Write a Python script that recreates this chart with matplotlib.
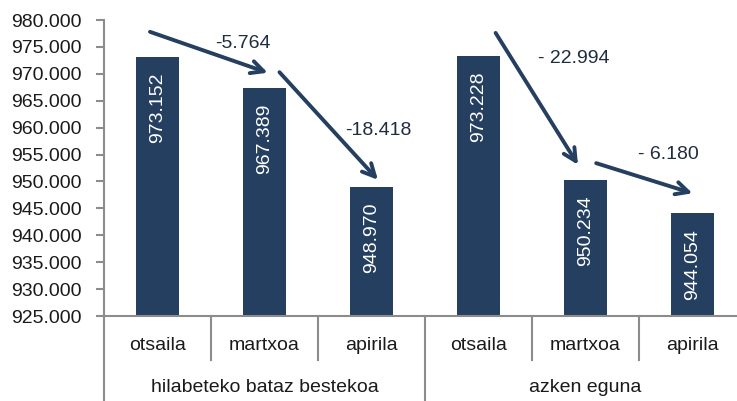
import matplotlib
matplotlib.use("Agg")
import matplotlib.pyplot as plt
from matplotlib.ticker import FuncFormatter, MultipleLocator
import matplotlib.transforms as mtransforms

plt.rcParams['font.family'] = ['Liberation Sans', 'DejaVu Sans']

# datos
months = ["otsaila", "martxoa", "apirila", "otsaila", "martxoa", "apirila"]
groups = ["hilabeteko bataz bestekoa", "azken eguna"]
values = [973152, 967389, 948970, 973228, 950234, 944054]
diff_labels = ["-5.764", "-18.418", "- 22.994", "- 6.180"]
# flechas: (x0, y0, x1, y1) en coordenadas de datos
arrows = [
    (-0.07, 977800, 1.03, 970200),
    (1.14, 970300, 2.06, 950300),
    (3.16, 977600, 3.93, 953100),
    (4.10, 953400, 5.00, 947800),
]
# posiciones de las etiquetas de diferencia
diff_pos = [(0.80, 975550), (2.06, 959550), (3.89, 972900), (4.77, 955100)]

navy = "#253f60"
grey = "#8c8c8c"
fs = 14

fig = plt.figure(figsize=(7.37, 4.01), dpi=100)
ax = fig.add_axes([104 / 737, 85 / 401, 642 / 737, 296 / 401])

x = list(range(len(values)))
ax.bar(x, values, width=0.41, color=navy, zorder=2)
ax.set_xlim(-0.5, 5.5)
ax.set_ylim(925000, 980000)
ax.yaxis.set_major_locator(MultipleLocator(5000))
ax.yaxis.set_major_formatter(FuncFormatter(lambda v, p: f"{v:,.0f}".replace(",", ".")))
ax.tick_params(axis='y', labelsize=fs, length=6, width=1.5, color=grey, pad=10, labelcolor="#1a1a1a")
ax.set_xticks([])

for s in ["top", "right"]:
    ax.spines[s].set_visible(False)
for s in ["left", "bottom"]:
    ax.spines[s].set_color(grey)
    ax.spines[s].set_linewidth(1.5)

# etiquetas dentro de las barras
for xi, v in zip(x, values):
    lbl = f"{v:,.0f}".replace(",", ".")
    ax.annotate(lbl, (xi, v), xytext=(0, -11), textcoords="offset points",
                rotation=90, ha="center", va="top", color="white", fontsize=fs)

# flechas y diferencias
for (x0, y0, x1, y1), t, (tx, ty) in zip(arrows, diff_labels, diff_pos):
    ax.annotate("", xy=(x1, y1), xytext=(x0, y0),
                arrowprops=dict(arrowstyle="->,head_length=0.9,head_width=0.45",
                                color=navy, lw=2.8, shrinkA=0, shrinkB=0))
    ax.text(tx, ty, t, ha="center", va="center", color="#1f2d40", fontsize=fs)

# eje de categorías en dos niveles
trans = mtransforms.blended_transform_factory(ax.transData, ax.transAxes)
lvl1 = -44 / 296
for i, m in enumerate(months):
    ax.text(i, -29 / 296, m, transform=trans, ha="center", va="center", fontsize=fs, color="#1a1a1a")
for b in [0.5, 1.5, 3.5, 4.5]:
    ax.plot([b, b], [0, lvl1], transform=trans, color=grey, lw=1.5, clip_on=False)
for b in [-0.5, 2.5]:
    ax.plot([b, b], [0, -90 / 296], transform=trans, color=grey, lw=1.5, clip_on=False)
for gi, g in enumerate(groups):
    ax.text(1 + 3 * gi, -72 / 296, g, transform=trans, ha="center", va="center", fontsize=fs, color="#1a1a1a")

fig.savefig("out.png", dpi=100)
